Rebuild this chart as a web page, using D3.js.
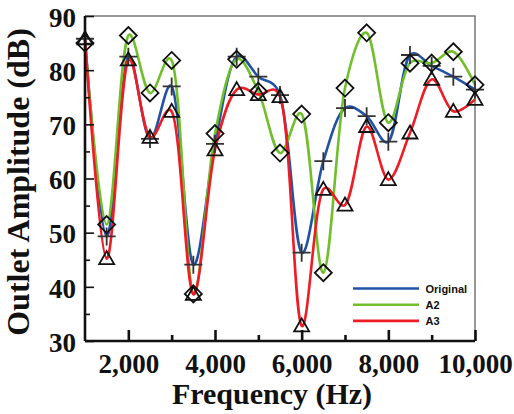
<!DOCTYPE html>
<html><head><meta charset="utf-8">
<script src="https://cdn.jsdelivr.net/npm/d3@7"></script>
<style>body{margin:0;background:#fff}svg{display:block}</style>
</head><body><div id="chart"></div>
<script>
const freqs = [1000,1500,2000,2500,3000,3500,4000,4500,5000,5500,6000,6500,7000,7500,8000,8500,9000,9500,10000];
const original = [85.8,49.3,82.5,67.3,77.0,44.1,66.4,82.5,78.8,75.4,46.3,63.2,73.0,71.5,66.8,82.8,80.8,78.8,76.4];
const a2 = [85.0,51.5,86.4,75.8,81.8,38.7,68.3,82.0,76.1,64.7,71.9,42.6,76.7,86.9,70.3,81.3,81.3,83.4,77.3];
const a3 = [85.8,45.2,81.9,67.6,72.4,38.6,65.3,76.4,75.5,75.1,32.8,58.0,55.1,69.6,59.8,68.4,78.3,72.4,74.6];
const seriesNames = ["Original","A2","A3"];
const seriesColors = ["#2251a6","#72bf2c","#ee1c24"];
const xMajor = [2000,4000,6000,8000,10000];
const xMinor = [3000,5000,7000,9000];
const yMajor = [30,40,50,60,70,80,90];
const yMinor = [35,45,55,65,75,85];

const W=514,H=414, m={l:85,r:39,t:16,b:73};
const svg=d3.select("#chart").append("svg").attr("width",W).attr("height",H);
const x=d3.scaleLinear().domain([1000,10000]).range([m.l,W-m.r]);
const y=d3.scaleLinear().domain([30,90]).range([H-m.b,m.t]);

// frame top/right
svg.append("path").attr("d",`M${x(1000)},${y(90)}H${x(10000)}V${y(30)}`).attr("fill","none").attr("stroke","#777").attr("stroke-width",1.5);

const data=[original,a2,a3];
const line=d3.line().x((d,i)=>x(freqs[i])).y(d=>y(d)).curve(d3.curveCatmullRom.alpha(0.25));
const g=svg.append("g");
data.forEach((s,k)=>{
  g.append("path").datum(s).attr("d",line).attr("fill","none").attr("stroke",seriesColors[k]).attr("stroke-width",2.6);
});

// markers
const mk=svg.append("g").attr("fill","none").attr("stroke","#111").attr("stroke-width",1.8);
original.forEach((v,i)=>{const cx=x(freqs[i]),cy=y(v);
  mk.append("path").attr("d",`M${cx-9},${cy}H${cx+9}M${cx},${cy-9}V${cy+9}`).attr("stroke","#333");});
a2.forEach((v,i)=>{const cx=x(freqs[i]),cy=y(v);
  mk.append("path").attr("d",`M${cx},${cy-8.5}L${cx+8.5},${cy}L${cx},${cy+8.5}L${cx-8.5},${cy}Z`);});
a3.forEach((v,i)=>{const cx=x(freqs[i]),cy=y(v);
  mk.append("path").attr("d",`M${cx},${cy-7.5}L${cx+7.5},${cy+5.5}L${cx-7.5},${cy+5.5}Z`);});

// axes
const fmt=d3.format(",");
const xa=svg.append("g").attr("transform",`translate(0,${y(30)})`)
  .call(d3.axisBottom(x).tickValues(xMajor).tickSize(-11).tickPadding(0).tickFormat(fmt));
xa.select(".domain").attr("stroke","#111").attr("stroke-width",2.6).attr("d",`M${x(1000)},0H${x(10000)}`);
xa.selectAll(".tick line").attr("stroke","#111").attr("stroke-width",2.6);
xa.selectAll(".tick text").attr("y",32).attr("dy",0).attr("fill","#111")
  .style("font-family","'Liberation Serif','Times New Roman',serif").style("font-weight","bold").style("font-size","27px");
const xm=svg.append("g").attr("transform",`translate(0,${y(30)})`)
  .call(d3.axisBottom(x).tickValues(xMinor).tickSize(-6).tickFormat(""));
xm.select(".domain").remove();
xm.selectAll(".tick line").attr("stroke","#111").attr("stroke-width",2.6);

const ya=svg.append("g").attr("transform",`translate(${x(1000)},0)`)
  .call(d3.axisLeft(y).tickValues(yMajor).tickSize(-9).tickPadding(9));
ya.select(".domain").attr("stroke","#111").attr("stroke-width",2.6).attr("d",`M0,${y(90)}V${y(30)}`);
ya.selectAll(".tick line").attr("stroke","#111").attr("stroke-width",1.6);
ya.selectAll(".tick text").attr("fill","#111").attr("dy","0.38em")
  .style("font-family","'Liberation Serif','Times New Roman',serif").style("font-weight","bold").style("font-size","27px");
const ym=svg.append("g").attr("transform",`translate(${x(1000)},0)`)
  .call(d3.axisLeft(y).tickValues(yMinor).tickSize(-5).tickFormat(""));
ym.select(".domain").remove();
ym.selectAll(".tick line").attr("stroke","#111").attr("stroke-width",1.6);

// titles
svg.append("text").attr("x",272).attr("y",404).attr("text-anchor","middle").attr("fill","#111")
  .style("font-family","'Liberation Serif','Times New Roman',serif").style("font-weight","bold").style("font-size","30px")
  .text("Frequency (Hz)");
svg.append("text").attr("transform","translate(29,182) rotate(-90)").attr("text-anchor","middle").attr("fill","#111")
  .style("font-family","'Liberation Serif','Times New Roman',serif").style("font-weight","bold").style("font-size","32px")
  .text("Outlet Amplitude (dB)");

// legend
const lg=svg.append("g");
seriesNames.forEach((n,k)=>{
  const ly=288.5+k*16.2;
  lg.append("line").attr("x1",353).attr("x2",419).attr("y1",ly).attr("y2",ly).attr("stroke",seriesColors[k]).attr("stroke-width",2.6);
  lg.append("text").attr("x",425.5).attr("y",ly+4).attr("fill","#111")
    .style("font-family","Arial,'Liberation Sans',sans-serif").style("font-weight","bold").style("font-size","11px").text(n);
});
</script></body></html>
